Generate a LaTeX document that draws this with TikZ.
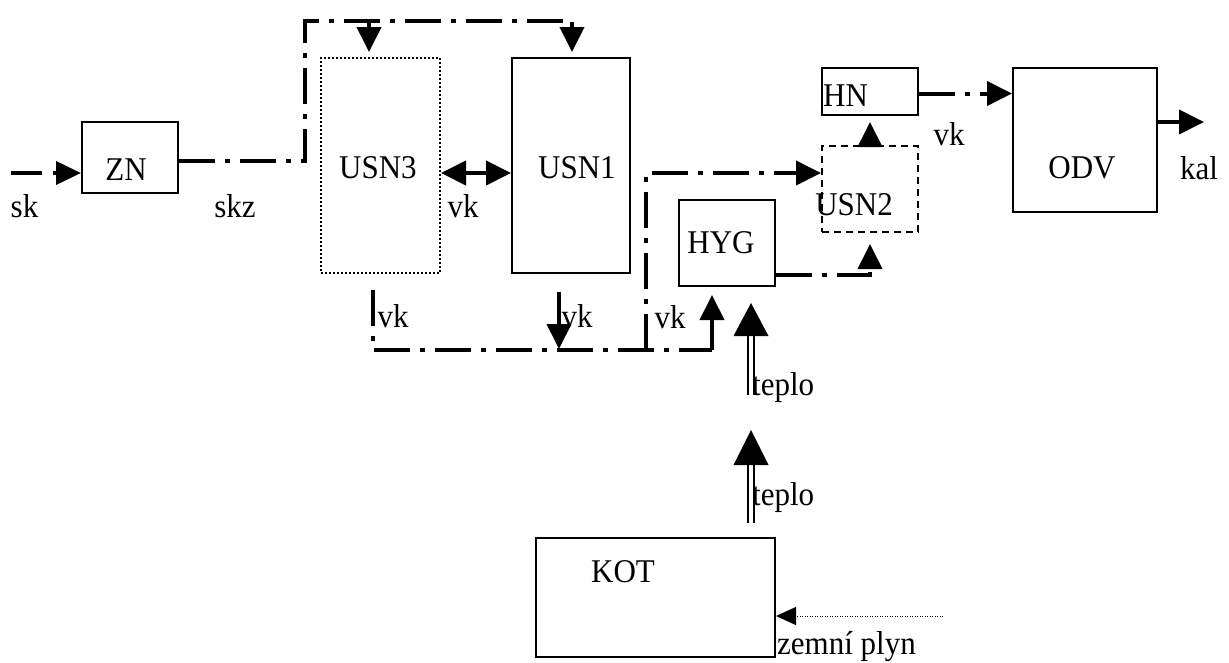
\documentclass[tikz,border=0pt]{standalone}
\usepackage{fontspec}
\setmainfont{Liberation Serif}
\usetikzlibrary{arrows.meta,calc}
\begin{document}
\begin{tikzpicture}[x=1pt,y=-1pt,
  box/.style={draw, line width=2pt, inner sep=0pt},
  txt/.style={inner sep=0pt, yscale=1.07, font=\fontsize{31}{37}\selectfont},
  tipb/.style={-{Triangle[length=25pt,width=24pt]}},
  arr/.style={line width=4pt, tipb},
  dd/.style={line width=4pt, dash pattern=on 36pt off 10pt on 5pt off 10pt},
  dbl/.style={line width=1.7pt, double, double distance=4pt}
]
\useasboundingbox (0,0) rectangle (1229,662);

% boxes
\node[box, minimum width=96pt, minimum height=71pt] (ZN) at (130,157.5) {};
\node[box, dash pattern=on 2pt off 2pt, line width=2pt, minimum width=119pt, minimum height=215pt] (USN3) at (380.5,165.5) {};
\node[box, minimum width=118pt, minimum height=215pt] (USN1) at (571,165.5) {};
\node[box, minimum width=96pt, minimum height=86pt] (HYG) at (727,243) {};
\node[box, dash pattern=on 7pt off 5pt, minimum width=96pt, minimum height=86pt] (USN2) at (870,189) {};
\node[box, minimum width=96pt, minimum height=47pt] (HN) at (870,91.5) {};
\node[box, minimum width=144pt, minimum height=144pt] (ODV) at (1085,140) {};
\node[box, minimum width=239pt, minimum height=119pt] (KOT) at (655.5,597.5) {};

% texts
\node[txt] (tZN) at (126,169.5) {ZN};
\node[txt] (tUSN3) at (378,168) {USN3};
\node[txt] (tUSN1) at (577,168) {USN1};
\node[txt] (tHYG) at (721,243) {HYG};
\node[txt] (tUSN2) at (854,205) {USN2};
\node[txt, anchor=west] (tHN) at (823,95.5) {HN};
\node[txt] (tODV) at (1082,168) {ODV};
\node[txt] (tKOT) at (623,572) {KOT};
\node[txt] (lsk) at (24.5,206) {sk};
\node[txt] (lskz) at (235,206) {skz};
\node[txt] (lvk1) at (463,206) {vk};
\node[txt] (lvk2) at (393,316) {vk};
\node[txt] (lvk3) at (577,316) {vk};
\node[txt] (lvk4) at (670,317) {vk};
\node[txt] (lvk5) at (949,134) {vk};
\node[txt] (lkal) at (1199,168) {kal};
\node[txt, anchor=west] (lt1) at (752,388) {teplo};
\node[txt, anchor=west] (lt2) at (752,498) {teplo};
\node[txt, anchor=west] (lgas) at (777,647) {zemní plyn};

% sk -> ZN
\coordinate (skin) at (11,173);
\draw[line width=4pt, dash pattern=on 31pt off 11pt, -{Triangle[length=25pt,width=23pt]}] (skin) -- (skin -| ZN.west);

% skz loop to USN3 / USN1
\coordinate (tl) at (305,21);
\coordinate (tr) at (572,21);
\coordinate (b3) at (369,21);
\draw[dd, tipb, shorten >=5pt] ($(ZN.east)+(0,3.5)$) -| (tl) -- (tr) -- (tr |- USN1.north);
\draw[arr, shorten >=5pt] (b3) -- (b3 |- USN3.north);

% USN3 <-> USN1
\draw[line width=4pt, {Triangle[length=25pt,width=24pt]}-{Triangle[length=25pt,width=24pt]}]
  ($(USN3.east)+(0,7.5)$) -- ($(USN1.west)+(0,7.5)$);

% bottom vk line
\coordinate (u3b) at (373,290);
\coordinate (u1b) at (559,292);
\coordinate (j1) at (559,349);
\coordinate (j2) at (646,350);
\coordinate (hb) at (712,350);
\draw[dd] (u3b) |- (hb);
\draw[arr] (u1b) -- (j1);
\draw[arr, shorten >=8pt] (hb) -- (hb |- HYG.south);
\coordinate (u2in) at ($(USN2.west)+(0,-16)$);
\draw[dd, tipb] (j2) |- (u2in);

% HYG -> USN2
\draw[dd, tipb, shorten >=11pt] ($(HYG.south east)+(0,-12)$) -| (USN2.south);

% USN2 -> HN
\draw[arr, shorten >=6pt] (USN2.north) -- (HN.south);

% HN -> ODV
\coordinate (hno) at ($(HN.east)+(0,2)$);
\draw[dd, tipb] (hno) -- (hno -| ODV.west);

% ODV -> kal
\coordinate (kalend) at (1204,122);
\draw[arr] (kalend -| ODV.east) -- (kalend);

% teplo arrows
\coordinate (t1s) at (751,395);
\coordinate (t1e) at ($(HYG.south)+(24,16)$);
\draw[dbl] (t1s) -- ($(t1e)+(0,32)$);
\fill (t1e) -- ++(-17.5,33) -- ++(35,0) -- cycle;
\coordinate (t2s) at ($(KOT.north)+(95.5,-14)$);
\coordinate (t2e) at (751,430);
\draw[dbl] (t2s) -- ($(t2e)+(0,32)$);
\fill (t2e) -- ++(-17.5,35) -- ++(35,0) -- cycle;

% gas
\coordinate (gas) at (943,616);
\draw[line width=1pt, dash pattern=on 1pt off 1.5pt, -{Triangle[length=20pt,width=18pt]}] (gas) -- (gas -| KOT.east);
\end{tikzpicture}
\end{document}
